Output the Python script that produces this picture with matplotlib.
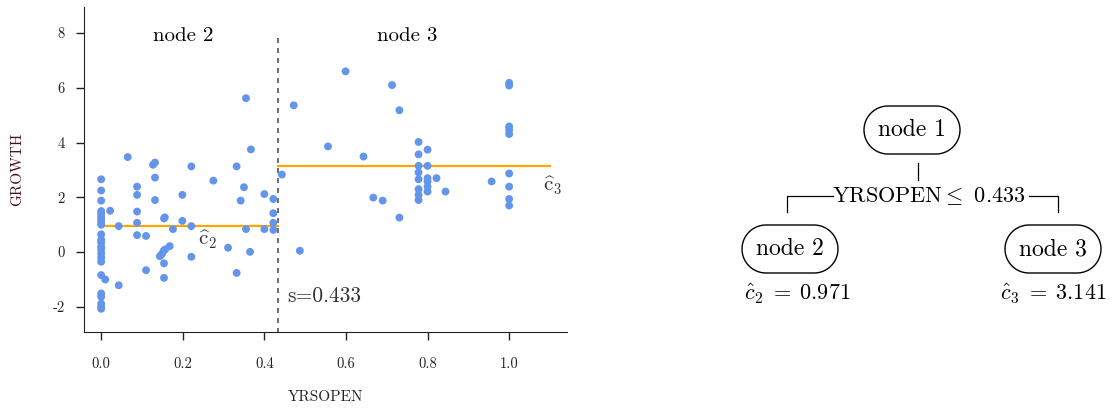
import matplotlib
matplotlib.use("Agg")
import numpy as np
import matplotlib.pyplot as plt
from matplotlib.patches import Polygon

plt.rcParams['font.family'] = ['cmr10', 'DejaVu Serif']
plt.rcParams['mathtext.fontset'] = 'cm'
plt.rcParams['axes.unicode_minus'] = False

# data
yrsopen = [
    0.0, 0.0, 0.0, 0.0, 0.0, 0.0, 0.0, 0.0, 0.0, 0.0, 0.0, 0.0, 0.0, 0.0,
    0.0, 0.0, 0.0, 0.0, 0.0, 0.0, 0.0, 0.0, 0.0, 0.01, 0.022,
    0.043, 0.043, 0.065, 0.088, 0.088, 0.088, 0.088, 0.088, 0.11, 0.11,
    0.127, 0.132, 0.132, 0.132, 0.154, 0.156, 0.144, 0.149, 0.153, 0.157,
    0.154, 0.154, 0.168, 0.176, 0.199, 0.199, 0.221, 0.221, 0.221, 0.275,
    0.311, 0.332, 0.332, 0.342, 0.35, 0.355, 0.355, 0.365, 0.367, 0.40,
    0.40, 0.422, 0.422, 0.422, 0.422,
    0.443, 0.472, 0.487, 0.556, 0.599, 0.643, 0.667, 0.69, 0.713, 0.731,
    0.731, 0.778, 0.778, 0.778, 0.778, 0.778, 0.778, 0.778, 0.778, 0.80,
    0.80, 0.80, 0.80, 0.80, 0.80, 0.822, 0.844, 0.957, 1.0, 1.0, 1.0,
    1.0, 1.0, 1.0, 1.0, 1.0, 1.0,
]
growth = [
    2.66, 2.25, 1.88, 1.5, 1.4, 1.3, 1.2, 1.1, 1.0, 0.65, 0.45, 0.35,
    0.2, 0.1, -0.05, -0.2, -0.35, -0.84, -1.51, -1.63, -1.88, -2.0, -2.07,
    -1.0, 1.51,
    0.95, -1.21, 3.47, 2.39, 2.09, 1.48, 1.07, 0.62, 0.59, -0.66,
    3.19, 3.27, 2.72, 1.90, 1.23, 1.27, -0.15, -0.07, 0.05, 0.1,
    -0.41, -0.94, 0.22, 0.84, 2.09, 1.14, 3.13, 0.95, -0.17, 2.61,
    0.16, 3.13, -0.76, 1.88, 2.37, 0.84, 5.62, 0.01, 3.75, 2.12,
    0.84, 1.94, 1.42, 1.07, 0.81,
    2.83, 5.36, 0.05, 3.86, 6.60, 3.49, 1.99, 1.88, 6.10, 5.18,
    1.26, 4.02, 3.57, 3.15, 2.91, 2.66, 2.30, 2.09, 1.90, 3.74,
    3.15, 2.70, 2.58, 2.39, 2.21, 2.70, 2.21, 2.58, 6.18, 6.08, 4.59,
    4.47, 4.31, 2.87, 2.39, 1.94, 1.70,
]
split = 0.433
c2 = 0.971
c3 = 3.141
xticks = [0.0, 0.2, 0.4, 0.6, 0.8, 1.0]
yticks = [-2, 0, 2, 4, 6, 8]

fig = plt.figure(figsize=(11.13, 4.11), dpi=100)
ax = fig.add_axes([0.0755, 0.192, 0.434, 0.791])

ax.scatter(yrsopen, growth, s=32, color='#6495ED', edgecolors='none', zorder=3)
ax.plot([0, split], [c2, c2], color='#FFA500', lw=1.6, zorder=2)
ax.plot([split, 1.1], [c3, c3], color='#FFA500', lw=1.6, zorder=2)
ax.plot([split, split], [-2.95, 8], color='#555555', lw=1.2, ls=(0, (3, 3)), zorder=1)

ax.text(0.2, 7.9, 'node 2', fontsize=15, ha='center', va='center')
ax.text(0.75, 7.9, 'node 3', fontsize=15, ha='center', va='center')
ax.text(split + 0.022, -1.6, 's=0.433', fontsize=15.5, ha='left', va='center', color='#333333')
ax.text(0.26, 0.45, r'$\widehat{\mathrm{c}}_2$', fontsize=15, ha='center', va='center', color='#333333')
ax.text(1.105, 2.42, r'$\widehat{\mathrm{c}}_3$', fontsize=15, ha='center', va='center', color='#333333')

ax.set_xlim(-0.042, 1.142)
ax.set_ylim(-2.92, 8.95)
ax.set_xticks(xticks)
ax.set_xticklabels([f'{v:.1f}' for v in xticks])
ax.set_yticks(yticks)
ax.set_yticklabels([str(v) for v in yticks])
for side in ['top', 'right']:
    ax.spines[side].set_visible(False)
for side in ['left', 'bottom']:
    ax.spines[side].set_color('#222222')
ax.tick_params(direction='out', length=6, width=1, colors='#222222', labelsize=10.5, pad=8)
ax.tick_params(axis='x', pad=12)
ax.set_xlabel('YRSOPEN', fontsize=11, labelpad=14, color='#222222')
ax.set_ylabel('GROWTH', fontsize=11, labelpad=20, color='#4a1020')

# tree diagram, pixel-like coordinates
tx = fig.add_axes([0.6, 0.0, 0.4, 1.0])
tx.set_xlim(667.8, 1113)
tx.set_ylim(411, 0)
tx.axis('off')


def node(cx, cy, label):
    w, h = 96, 48
    r = h / 2
    t = np.linspace(-np.pi / 2, np.pi / 2, 40)
    right = np.column_stack([cx + w / 2 - r + r * np.cos(t), cy + r * np.sin(t)])
    left = np.column_stack([cx - w / 2 + r - r * np.cos(t), cy - r * np.sin(t)])
    pill = Polygon(np.vstack([right, left]), closed=True, fc='white', ec='black', lw=1.0)
    tx.add_patch(pill)
    tx.text(cx, cy, label, fontsize=17, ha='center', va='center')


node(912, 130, 'node 1')
node(790, 249, 'node 2')
node(1053, 249, 'node 3')
tx.plot([918, 918], [163, 180], color='black', lw=0.9)
tx.text(929, 196, r'YRSOPEN$\leq$ 0.433', fontsize=16, ha='center', va='center')
tx.plot([833, 787, 787], [196, 196, 212], color='black', lw=0.9)
tx.plot([1029, 1058, 1058], [196, 196, 212], color='black', lw=0.9)
tx.text(797, 294, r'$\hat{c}_2\;=\;0.971$', fontsize=16, ha='center', va='center')
tx.text(1053, 294, r'$\hat{c}_3\;=\;3.141$', fontsize=16, ha='center', va='center')

fig.savefig('out.png', dpi=100)
